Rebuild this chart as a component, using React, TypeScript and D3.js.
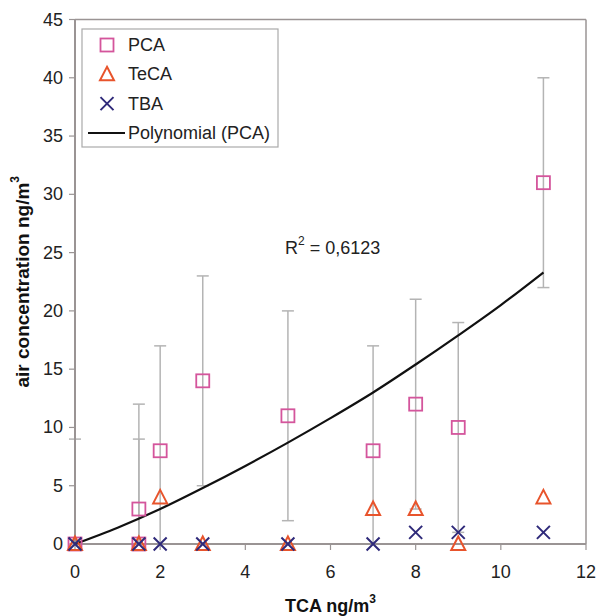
import React from "react";
import * as d3 from "d3";

const WIDTH = 597;
const HEIGHT = 616;
const PLOT = { left: 75, right: 586, top: 19.5, bottom: 544 };

// PCA points with +/- error
const pcaX = [0, 1.5, 1.5, 2, 3, 5, 7, 8, 9, 11];
const pcaY = [0, 0, 3, 8, 14, 11, 8, 12, 10, 31];
const pcaErr = [9, 9, 9, 9, 9, 9, 9, 9, 9, 9];

const tecaX = [0, 1.5, 2, 3, 5, 7, 8, 9, 11];
const tecaY = [0, 0, 4, 0, 0, 3, 3, 0, 4];

const tbaX = [0, 1.5, 2, 3, 5, 7, 8, 9, 11];
const tbaY = [0, 0, 0, 0, 0, 0, 1, 1, 1];

// polynomial trend (PCA)
const trendX = [0, 1, 2, 3, 4, 5, 6, 7, 8, 9, 10, 11];
const trendY = [0, 1.4, 3.0, 4.8, 6.7, 8.7, 10.8, 13.0, 15.4, 17.9, 20.5, 23.3];

const xTicks = [0, 2, 4, 6, 8, 10, 12];
const yTicks = [0, 5, 10, 15, 20, 25, 30, 35, 40, 45];

const legendItems = ["PCA", "TeCA", "TBA", "Polynomial (PCA)"];

const PINK = "#d4559c";
const ORANGE = "#e8542c";
const NAVY = "#2f2a7a";
const AXIS = "#9a9494";
const ERR = "#b4b4b4";
const FONT = "'Liberation Sans', Arial, sans-serif";

const Square = ({ x, y }: { x: number; y: number }) => (
  <rect x={x - 6.5} y={y - 6.5} width={13} height={13} fill="none" stroke={PINK} strokeWidth={1.8} />
);
const Triangle = ({ x, y }: { x: number; y: number }) => (
  <path d={`M${x},${y - 7.5} L${x + 7},${y + 6} L${x - 7},${y + 6} Z`} fill="none" stroke={ORANGE} strokeWidth={2} />
);
const Cross = ({ x, y }: { x: number; y: number }) => (
  <path d={`M${x - 6.5},${y - 6.5} L${x + 6.5},${y + 6.5} M${x + 6.5},${y - 6.5} L${x - 6.5},${y + 6.5}`} stroke={NAVY} strokeWidth={2} />
);

export default function App() {
  const x = d3.scaleLinear().domain([0, 12]).range([PLOT.left, PLOT.right]);
  const y = d3.scaleLinear().domain([0, 45]).range([PLOT.bottom, PLOT.top]);

  const trendLine = d3
    .line<number>()
    .x((_, i) => x(trendX[i]))
    .y((d) => y(d))
    .curve(d3.curveMonotoneX)(trendY);

  return (
    <svg
      width={WIDTH}
      height={HEIGHT}
      style={{ position: "absolute", left: 0, top: 0, background: "#fff" }}
      fontFamily={FONT}
    >
      {/* plot frame */}
      <line x1={PLOT.left} x2={PLOT.right} y1={PLOT.top} y2={PLOT.top} stroke={AXIS} strokeWidth={1.5} />
      <line x1={PLOT.right} x2={PLOT.right} y1={PLOT.top} y2={PLOT.bottom} stroke={AXIS} strokeWidth={1.5} />

      {/* error bars */}
      {pcaX.map((xv, i) => {
        const hi = pcaY[i] + pcaErr[i];
        const lo = pcaY[i] - pcaErr[i];
        const cx = x(xv);
        return (
          <g key={"e" + i} stroke={ERR} strokeWidth={1.5}>
            <line x1={cx} x2={cx} y1={y(Math.max(lo, 0))} y2={y(hi)} />
            <line x1={cx - 6} x2={cx + 6} y1={y(hi)} y2={y(hi)} />
            {lo >= 0 && <line x1={cx - 6} x2={cx + 6} y1={y(lo)} y2={y(lo)} />}
          </g>
        );
      })}

      {/* axes */}
      <line x1={PLOT.left} x2={PLOT.left} y1={PLOT.top} y2={PLOT.bottom} stroke={AXIS} strokeWidth={2} />
      <line x1={PLOT.left} x2={PLOT.right} y1={PLOT.bottom} y2={PLOT.bottom} stroke={AXIS} strokeWidth={2} />
      {yTicks.map((t) => (
        <g key={"y" + t}>
          <line x1={PLOT.left - 6} x2={PLOT.left} y1={y(t)} y2={y(t)} stroke={AXIS} strokeWidth={1.2} />
          <text x={PLOT.left - 12} y={y(t)} textAnchor="end" dominantBaseline="central" fontSize={18} fill="#222">
            {t}
          </text>
        </g>
      ))}
      {xTicks.map((t) => (
        <g key={"x" + t}>
          <line x1={x(t)} x2={x(t)} y1={PLOT.bottom} y2={PLOT.bottom + 6} stroke={AXIS} strokeWidth={1.2} />
          <text x={x(t)} y={PLOT.bottom + 28} textAnchor="middle" dominantBaseline="central" fontSize={18} fill="#222">
            {t}
          </text>
        </g>
      ))}

      {/* trend line */}
      <path d={trendLine ?? ""} fill="none" stroke="#111" strokeWidth={2.2} />

      {/* markers */}
      {pcaX.map((xv, i) => (
        <Square key={"p" + i} x={x(xv)} y={y(pcaY[i])} />
      ))}
      {tecaX.map((xv, i) => (
        <Triangle key={"t" + i} x={x(xv)} y={y(tecaY[i])} />
      ))}
      {tbaX.map((xv, i) => (
        <Cross key={"b" + i} x={x(xv)} y={y(tbaY[i])} />
      ))}

      {/* R2 label */}
      <text x={285} y={248} dominantBaseline="central" fontSize={18} fill="#222">
        R<tspan dy={-7} fontSize={12}>2</tspan>
        <tspan dy={7}> = 0,6123</tspan>
      </text>

      {/* legend */}
      <rect x={82} y={29} width={196} height={118} fill="#fff" stroke="#aaa" strokeWidth={1.2} />
      {legendItems.map((name, i) => {
        const ly = 45 + i * 29.3;
        return (
          <g key={name}>
            {i === 0 && <Square x={107} y={ly} />}
            {i === 1 && <Triangle x={107} y={ly} />}
            {i === 2 && <Cross x={107} y={ly} />}
            {i === 3 && <line x1={88} x2={125} y1={ly} y2={ly} stroke="#111" strokeWidth={2} />}
            <text x={128} y={ly} dominantBaseline="central" fontSize={18} fill="#222">
              {name}
            </text>
          </g>
        );
      })}

      {/* axis titles */}
      <text x={(PLOT.left + PLOT.right) / 2} y={606} textAnchor="middle" dominantBaseline="central" fontSize={18} fontWeight="bold" fill="#111">
        TCA ng/m<tspan dy={-7} fontSize={12}>3</tspan>
      </text>
      <text
        transform={`translate(22, ${(PLOT.top + PLOT.bottom) / 2}) rotate(-90)`}
        textAnchor="middle"
        dominantBaseline="central"
        fontSize={19}
        fontWeight="bold"
        fill="#111"
      >
        air concentration ng/m<tspan dy={-7} fontSize={12}>3</tspan>
      </text>
    </svg>
  );
}
